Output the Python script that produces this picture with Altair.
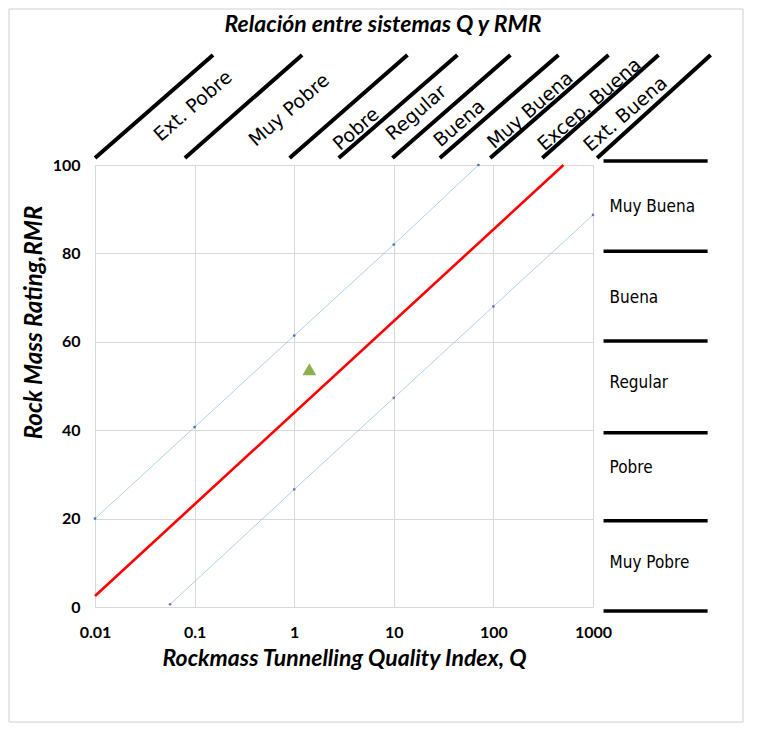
import altair as alt
import pandas as pd

# ---------------- data ----------------
# Q-RMR correlation (red line), end points
red_q = [0.01, 505]
red_rmr = [2.5, 100]

# upper and lower limit lines (thin blue, with small markers)
upper_q = [0.01, 0.1, 1, 10, 70.8]
upper_rmr = [20, 40.7, 61.4, 82, 100]
lower_q = [0.0567, 1, 10, 100, 1000]
lower_rmr = [0.6, 26.6, 47.3, 68, 88.7]

# measured case (green triangle)
case_q = [1.42]
case_rmr = [53.8]

# Q classes (diagonal band above the plot)
q_class_labels = ["Ext. Pobre", "Muy Pobre", "Pobre", "Regular", "Buena",
                  "Muy Buena", "Excep. Buena", "Ext. Buena"]
q_label_q = [0.0966, 0.89, 4.2, 16.8, 45.5, 235, 923, 2123]
q_label_rmr = [113.3, 112.4, 108.1, 111.8, 109.4, 112.4, 113.7, 111.5]
q_bound_start = [0.01, 0.08, 0.9, 2.8, 9.7, 29, 93, 310, 1100]
q_bound_end = [0.153, 1.2, 13.7, 43.5, 148, 450, 1432, 4550, 15170]
q_bound_rmr_start = [101.6] * 9
q_bound_rmr_end = [124.9] * 9

# RMR classes (right band)
rmr_class_labels = ["Muy Buena", "Buena", "Regular", "Pobre", "Muy Pobre"]
rmr_label_rmr = [90.5, 69.9, 50.7, 31.4, 10.0]
rmr_label_q = [1466] * 5
rmr_bounds = [100.9, 80.5, 60.2, 39.4, 19.5, -0.9]
rmr_bound_q_start = [1276] * 6
rmr_bound_q_end = [14150] * 6

x_ticks = [0.01, 0.1, 1, 10, 100, 1000]
y_ticks = [0, 20, 40, 60, 80, 100]

# ---------------- chart ----------------
W, H = 498, 442
xscale = alt.Scale(type="log", domain=[0.01, 1000], nice=False)
yscale = alt.Scale(domain=[0, 100], nice=False, zero=False)

x_axis = alt.Axis(values=x_ticks, format="~g", title="Rockmass Tunnelling Quality Index, Q",
                  grid=True, gridColor="#d9d9d9", domain=False, ticks=False,
                  labelFont="Lato", labelFontWeight="bold", labelFontSize=16,
                  labelColor="black", labelPadding=17, labelFlush=False,
                  titleFont="Lato", titleFontWeight="bold", titleFontStyle="italic",
                  titleFontSize=23, titleColor="black", titlePadding=7)
y_axis = alt.Axis(values=y_ticks, title="Rock Mass Rating,RMR",
                  grid=True, gridColor="#d9d9d9", domain=False, ticks=False,
                  labelFont="Lato", labelFontWeight="bold", labelFontSize=16,
                  labelColor="black", labelPadding=15,
                  titleFont="Lato", titleFontWeight="bold", titleFontStyle="italic",
                  titleFontSize=24, titleColor="black",
                  titleAngle=270, titleAlign="center", titleBaseline="bottom",
                  titleX=-49, titleY=157)


def X(field):
    return alt.X(field, type="quantitative", scale=xscale, axis=x_axis)


def Y(field):
    return alt.Y(field, type="quantitative", scale=yscale, axis=y_axis)


red_df = pd.DataFrame({"q": red_q, "rmr": red_rmr})
upper_df = pd.DataFrame({"q": upper_q, "rmr": upper_rmr})
lower_df = pd.DataFrame({"q": lower_q, "rmr": lower_rmr})
case_df = pd.DataFrame({"q": case_q, "rmr": case_rmr})
qlab_df = pd.DataFrame({"label": q_class_labels, "q": q_label_q, "rmr": q_label_rmr})
qb_df = pd.DataFrame({"q": q_bound_start, "q2": q_bound_end,
                      "rmr": q_bound_rmr_start, "rmr2": q_bound_rmr_end})
rlab_df = pd.DataFrame({"label": rmr_class_labels, "q": rmr_label_q, "rmr": rmr_label_rmr})
rb_df = pd.DataFrame({"q": rmr_bound_q_start, "q2": rmr_bound_q_end, "rmr": rmr_bounds})

upper = alt.Chart(upper_df).mark_line(
    color="#9dc3e6", strokeWidth=0.8,
    point=alt.OverlayMarkDef(filled=True, size=7, color="#4472c4")
).encode(x=X("q"), y=Y("rmr"))

lower = alt.Chart(lower_df).mark_line(
    color="#9dc3e6", strokeWidth=0.8,
    point=alt.OverlayMarkDef(filled=True, size=7, color="#7f6fb5")
).encode(x=X("q"), y=Y("rmr"))

red = alt.Chart(red_df).mark_line(color="#ff0000", strokeWidth=2.6).encode(
    x=X("q"), y=Y("rmr"))

case = alt.Chart(case_df).mark_point(
    shape="triangle-up", filled=True, size=190, color="#8db04e", opacity=1
).encode(x=X("q"), y=Y("rmr"))

qbounds = alt.Chart(qb_df).mark_rule(color="black", strokeWidth=4, strokeCap="butt").encode(
    x=X("q"), x2=alt.X2("q2"), y=Y("rmr"), y2=alt.Y2("rmr2"))

qlabels = alt.Chart(qlab_df).mark_text(
    angle=319, font="DejaVu Sans", fontSize=19, align="center", baseline="middle",
    color="black"
).encode(x=X("q"), y=Y("rmr"), text="label:N")

rbounds = alt.Chart(rb_df).mark_rule(color="black", strokeWidth=3.5, strokeCap="butt").encode(
    x=X("q"), x2=alt.X2("q2"), y=Y("rmr"))

rlabels = alt.Chart(rlab_df).mark_text(
    font="Liberation Sans Narrow, DejaVu Sans Condensed, Roboto Condensed, Roboto, sans-serif",
    fontSize=17, align="left", baseline="middle", color="black"
).encode(x=X("q"), y=Y("rmr"), text="label:N")

frame = alt.Chart(pd.DataFrame({"k": [0]})).mark_rect(
    fill=None, stroke="#d0d0d0", strokeWidth=1
).encode(x=alt.value(-86), x2=alt.value(W + 150), y=alt.value(-156), y2=alt.value(H + 115))

chart = alt.layer(
    frame, upper, lower, red, case, qbounds, qlabels, rbounds, rlabels
).properties(
    width=W, height=H,
    title=alt.Title("Relación entre sistemas Q y RMR", font="Lato", fontSize=23,
                    fontWeight="bold", fontStyle="italic", color="black",
                    anchor="middle", frame="group", baseline="bottom",
                    offset=-51, dx=39),
    autosize=alt.AutoSizeParams(type="none"),
    padding={"left": 87, "top": 157, "right": 155, "bottom": 118},
).configure_view(stroke="#d9d9d9").configure(background="white")

chart.save("out.html", embed_options={"renderer": "svg", "actions": False})
